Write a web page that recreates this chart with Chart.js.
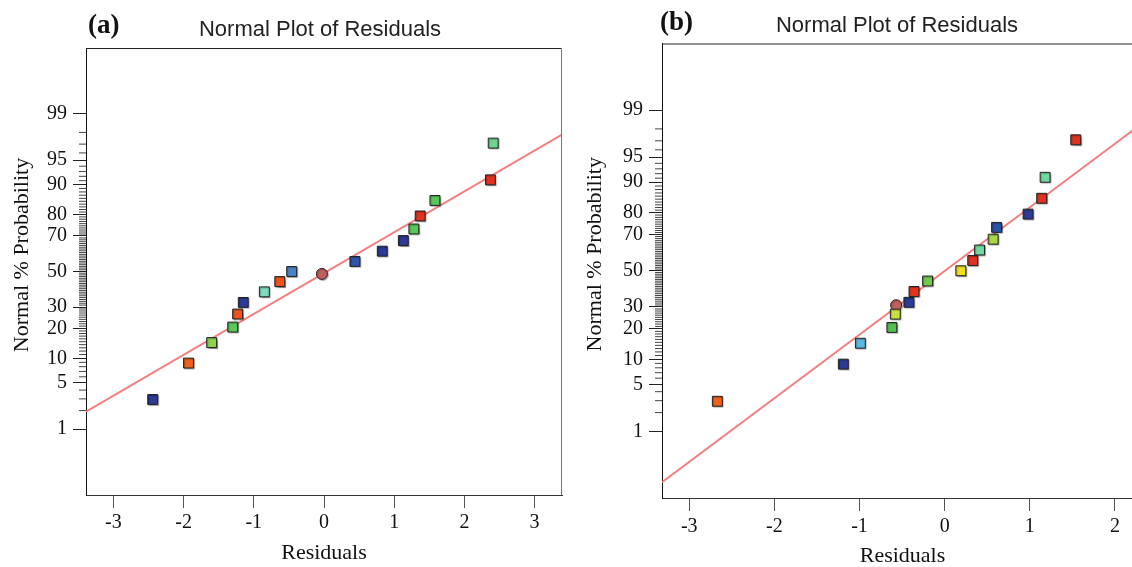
<!DOCTYPE html>
<html>
<head>
<meta charset="utf-8">
<script src="https://cdn.jsdelivr.net/npm/chart.js@4.4.1/dist/chart.umd.min.js"></script>
<style>
    html, body { margin: 0; padding: 0; background: #fff; overflow: hidden; width: 1132px; height: 567px; }
    .panel { position: absolute; top: 0; }
    .tag { position: absolute; font: bold 27px 'Liberation Serif', serif; line-height: 1; color: #111; }
</style>
</head>
<body>
<div class="panel" style="left:0px"><canvas id="chartA" width="640" height="567"></canvas></div>
<div class="panel" style="left:570px"><canvas id="chartB" width="654" height="567"></canvas></div>
<div class="tag" style="left:88px;top:11px">(a)</div>
<div class="tag" style="left:660px;top:8px">(b)</div>
<script>
// --- DATA ---
// normal % probability of each ranked residual (17 runs)
const probPct = [2.94, 8.82, 14.7, 20.6, 26.5, 32.4, 38.2, 44.1, 50.0, 55.9, 61.8, 67.6, 73.5, 79.4, 85.3, 91.2, 97.1];

// panel (a)
const residA = [-2.44, -1.93, -1.60, -1.30, -1.23, -1.15, -0.85, -0.63, -0.46, 0.44, 0.83, 1.13, 1.28, 1.37, 1.58, 2.37, 2.41];
const circleA = { resid: -0.03, pct: 48.6 };
const lineA = { resid: [-3.39, 3.39], pct: [1.93, 97.83] };

// panel (b)
const residB = [-2.67, -1.19, -0.99, -0.62, -0.58, -0.42, -0.36, -0.20, 0.19, 0.33, 0.41, 0.57, 0.61, 0.98, 1.14, 1.18, 1.54];
const circleB = { resid: -0.57, pct: 30.9 };
const lineB = { resid: [-3.32, 2.33], pct: [0.11, 98.39] };

// axis ticks
const yTickPct = [1, 5, 10, 20, 30, 50, 70, 80, 90, 95, 99];
const xTicksA = [-3, -2, -1, 0, 1, 2, 3];
const xTicksB = [-3, -2, -1, 0, 1, 2];
const minorPct = Array.from({ length: 99 }, (_, i) => i + 1).filter((p) => !yTickPct.includes(p));

// --- STYLE ---
const colorsA = ['#2b3a94', '#f0601e', '#8cd24e', '#5cc85a', '#f0521e', '#2b3b96', '#80dcc0', '#f0521e', '#4a82c6',
    '#2c56ac', '#2b3a96', '#2e3896', '#58c858', '#e0321e', '#58c858', '#e0321e', '#6cd68e'];
const colorsB = ['#f0601e', '#2b3a96', '#5cb8e0', '#54c04e', '#c8e040', '#2b3c98', '#e8321e', '#74c848', '#f2e020',
    '#e0321e', '#72d8a0', '#a8d84a', '#2c52a8', '#2b3a96', '#e0321e', '#72d8a0', '#e0321e'];
const SERIF = "'Liberation Serif', 'Times New Roman', serif";
const SANS = "'Liberation Sans', Arial, sans-serif";

// inverse normal CDF (Acklam)
function probit(p) {
    const a = [-3.969683028665376e1, 2.209460984245205e2, -2.759285104469687e2, 1.38357751867269e2, -3.066479806614716e1, 2.506628277459239];
    const b = [-5.447609879822406e1, 1.615858368580409e2, -1.556989798598866e2, 6.680131188771972e1, -1.328068155288572e1];
    const c = [-7.784894002430293e-3, -3.223964580411365e-1, -2.400758277161838, -2.549732539343734, 4.374664141464968, 2.938163982698783];
    const d = [7.784695709041462e-3, 3.224671290700398e-1, 2.445134137142996, 3.754408661907416];
    const pl = 0.02425;
    if (p < pl) {
        const q = Math.sqrt(-2 * Math.log(p));
        return (((((c[0] * q + c[1]) * q + c[2]) * q + c[3]) * q + c[4]) * q + c[5]) / ((((d[0] * q + d[1]) * q + d[2]) * q + d[3]) * q + 1);
    }
    if (p > 1 - pl) {
        const q = Math.sqrt(-2 * Math.log(1 - p));
        return -(((((c[0] * q + c[1]) * q + c[2]) * q + c[3]) * q + c[4]) * q + c[5]) / ((((d[0] * q + d[1]) * q + d[2]) * q + d[3]) * q + 1);
    }
    const q = p - 0.5;
    const r = q * q;
    return (((((a[0] * r + a[1]) * r + a[2]) * r + a[3]) * r + a[4]) * r + a[5]) * q /
        (((((b[0] * r + b[1]) * r + b[2]) * r + b[3]) * r + b[4]) * r + 1);
}

// --- PLUGINS ---
const yTitlePlugin = {
    id: 'yTitle',
    afterDraw(chart, args, opts) {
        const { ctx, chartArea } = chart;
        ctx.save();
        ctx.font = `22px ${SERIF}`;
        ctx.fillStyle = '#111';
        ctx.textAlign = 'center';
        ctx.textBaseline = 'middle';
        ctx.translate(opts.x, (chartArea.top + chartArea.bottom) / 2 + opts.shift);
        ctx.rotate(-Math.PI / 2);
        ctx.fillText(opts.text, 0, 0);
        ctx.restore();
    },
};

const minorTickPlugin = {
    id: 'minorTicks',
    afterDraw(chart) {
        const { ctx, chartArea } = chart;
        const y = chart.scales.y;
        ctx.save();
        ctx.strokeStyle = '#444';
        ctx.lineWidth = 1;
        ctx.beginPath();
        minorPct.forEach((p) => {
            const py = y.getPixelForValue(probit(p / 100));
            ctx.moveTo(chartArea.left - 7, py);
            ctx.lineTo(chartArea.left, py);
        });
        ctx.stroke();
        ctx.restore();
    },
};

const framePlugin = {
    id: 'frame',
    afterDraw(chart) {
        const { ctx, chartArea } = chart;
        ctx.save();
        ctx.lineWidth = 1;
        ctx.strokeStyle = '#222';
        ctx.beginPath();
        ctx.moveTo(chartArea.left, chartArea.top + 0.5);
        ctx.lineTo(chartArea.right, chartArea.top + 0.5);
        ctx.stroke();
        ctx.strokeStyle = '#777';
        ctx.beginPath();
        ctx.moveTo(chartArea.right - 0.5, chartArea.top);
        ctx.lineTo(chartArea.right - 0.5, chartArea.bottom);
        ctx.stroke();
        ctx.restore();
    },
};

const shadowPlugin = {
    id: 'markerShadow',
    beforeDatasetDraw(chart, args) {
        if (!chart.data.datasets[args.index].shadow) return;
        const ctx = chart.ctx;
        ctx.save();
        ctx.shadowColor = 'rgba(0,0,0,0.3)';
        ctx.shadowOffsetX = 1;
        ctx.shadowOffsetY = 1;
        ctx.shadowBlur = 1;
    },
    afterDatasetDraw(chart, args) {
        if (!chart.data.datasets[args.index].shadow) return;
        chart.ctx.restore();
    },
};

// --- CHART BUILDER ---
function makePanel(canvasId, p) {
    const points = p.resid.map((r, i) => ({ x: r, y: probit(probPct[i] / 100) }));
    const fitLine = p.line.resid.map((r, i) => ({ x: r, y: probit(p.line.pct[i] / 100) }));

    return new Chart(document.getElementById(canvasId), {
        type: 'scatter',
        data: {
            datasets: [
                {
                    type: 'line',
                    data: fitLine,
                    showLine: true,
                    borderColor: '#f47f7f',
                    borderWidth: 2,
                    pointRadius: 0,
                    order: 3,
                },
                {
                    data: [{ x: p.circle.resid, y: probit(p.circle.pct / 100) }],
                    pointStyle: 'circle',
                    pointRadius: 5.5,
                    backgroundColor: '#c0605e',
                    borderColor: '#3a2020',
                    borderWidth: 1,
                    shadow: true,
                    order: 2,
                },
                {
                    data: points,
                    pointStyle: 'rect',
                    pointRadius: 7,
                    backgroundColor: p.colors,
                    borderColor: '#222',
                    borderWidth: 1,
                    shadow: true,
                    order: 1,
                },
            ],
        },
        options: {
            responsive: false,
            animation: false,
            layout: { padding: 0 },
            plugins: {
                legend: { display: false },
                tooltip: { enabled: false },
                title: {
                    display: true,
                    text: 'Normal Plot of Residuals',
                    color: '#222',
                    font: { family: SANS, size: 22, weight: 'normal', lineHeight: 1.2 },
                    padding: { top: p.titleTop, bottom: 4.6 },
                },
                yTitle: { text: 'Normal % Probability', x: p.yTitleX, shift: -16.5 },
            },
            scales: {
                x: {
                    type: 'linear',
                    min: p.xMin,
                    max: p.xMax,
                    afterBuildTicks: (s) => { s.ticks = p.xTicks.map((v) => ({ value: v })); },
                    afterFit: (s) => { s.height = p.xAxisH; },
                    ticks: {
                        callback: (v) => String(v),
                        font: { family: SERIF, size: 20 },
                        color: '#111',
                        padding: p.xPad,
                        autoSkip: false,
                        maxRotation: 0,
                    },
                    grid: { drawOnChartArea: false, tickLength: 13, tickColor: '#555' },
                    border: { color: '#333' },
                    title: {
                        display: true,
                        text: 'Residuals',
                        color: '#111',
                        font: { family: SERIF, size: 22, lineHeight: 1 },
                        padding: { top: 0, bottom: p.xTitlePad },
                    },
                },
                y: {
                    type: 'linear',
                    min: -p.zMax,
                    max: p.zMax,
                    afterBuildTicks: (s) => { s.ticks = yTickPct.map((v) => ({ value: probit(v / 100) })); },
                    afterFit: (s) => { s.width = p.yAxisW; },
                    ticks: {
                        callback: (v, i) => String(yTickPct[i]),
                        font: { family: SERIF, size: 20, lineHeight: 1 },
                        color: '#111',
                        padding: 6,
                        autoSkip: false,
                    },
                    grid: { drawOnChartArea: false, tickLength: 13, tickColor: '#222' },
                    border: { color: '#111' },
                },
                yr: {
                    type: 'linear',
                    position: 'right',
                    grid: { display: false },
                    ticks: { display: false },
                    border: { display: false },
                    afterFit: (s) => { s.width = p.rightW; },
                },
            },
        },
        plugins: [shadowPlugin, minorTickPlugin, framePlugin, yTitlePlugin],
    });
}

makePanel('chartA', {
    resid: residA, colors: colorsA, circle: circleA, line: lineA,
    xTicks: xTicksA, xMin: -3.39, xMax: 3.39, zMax: 3.30,
    titleTop: 17, yAxisW: 86, rightW: 78, xAxisH: 72, xPad: 3, xTitlePad: 3, yTitleX: 22,
});

makePanel('chartB', {
    resid: residB, colors: colorsB, circle: circleB, line: lineB,
    xTicks: xTicksB, xMin: -3.32, xMax: 2.33, zMax: 3.29,
    titleTop: 12.5, yAxisW: 92, rightW: 81, xAxisH: 69, xPad: 4, xTitlePad: 0, yTitleX: 25,
});
</script>
</body>
</html>
